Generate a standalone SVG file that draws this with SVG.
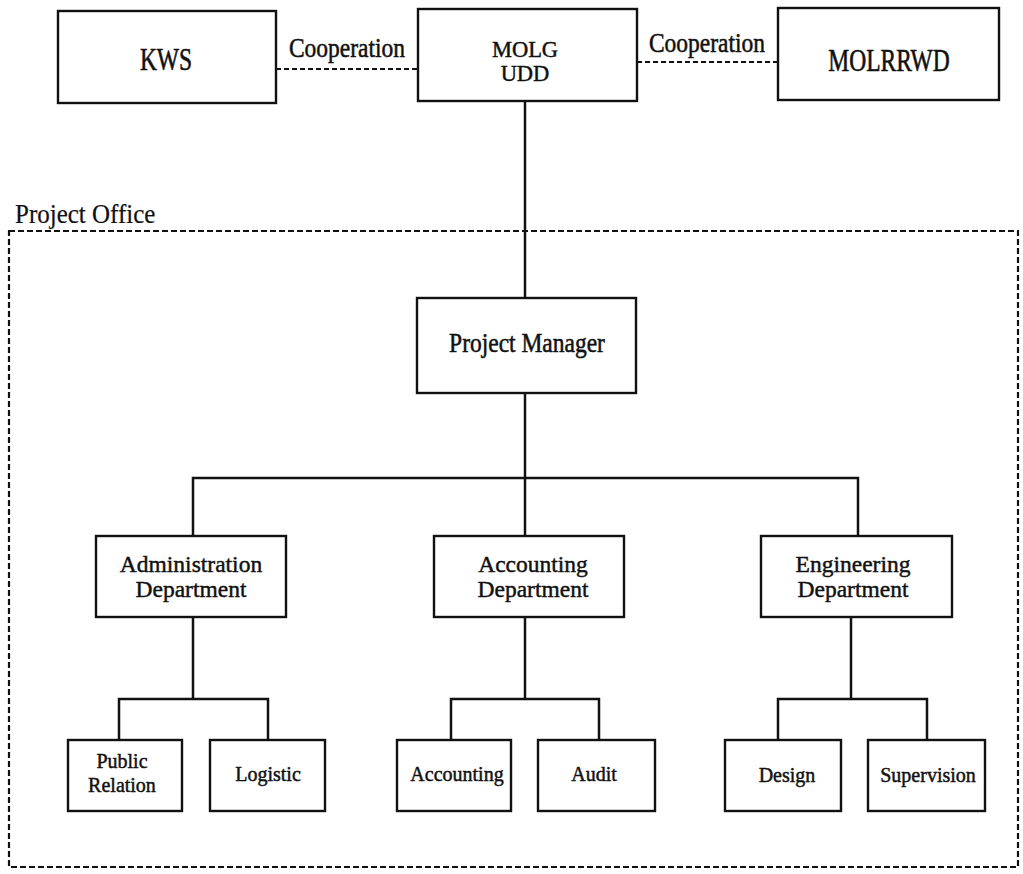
<svg xmlns="http://www.w3.org/2000/svg" width="1023" height="874" viewBox="0 0 1023 874">
  <style>
    .box{fill:#fff;stroke:#111;stroke-width:2.4}
    .wire{fill:none;stroke:#111;stroke-width:2.5}
    .coop{fill:none;stroke:#111;stroke-width:2.2;stroke-dasharray:5 3}
    .frame{fill:none;stroke:#111;stroke-width:2.2;stroke-dasharray:6 3}
    text{font-family:"Liberation Serif","Times New Roman",serif;fill:#111;stroke:#111;stroke-width:0.45;text-anchor:middle}
    .lg{font-size:23.5px}
    .sm{font-size:20px}
    .left{text-anchor:start}
  </style>

  <rect width="1023" height="874" fill="#fff"/>

  <!-- project office boundary -->
  <g id="project-office">
    <rect class="frame" x="9" y="231" width="1009" height="636"/>
    <text class="lg left" transform="translate(15 223) scale(1 1.1)" style="font-size:25px;stroke-width:0.2">Project Office</text>
  </g>

  <!-- connectors -->
  <g id="connectors">
    <line class="coop" x1="276" y1="69" x2="418" y2="69"/>
    <line class="coop" x1="637" y1="62" x2="778" y2="62"/>
    <text class="lg" transform="translate(347 57) scale(1 1.2)">Cooperation</text>
    <text class="lg" transform="translate(707 52) scale(1 1.2)">Cooperation</text>

    <line class="wire" x1="525" y1="101" x2="525" y2="298"/>
    <line class="wire" x1="525" y1="393" x2="525" y2="536"/>
    <polyline class="wire" points="193,536 193,478 858,478 858,536"/>

    <line class="wire" x1="193" y1="617" x2="193" y2="699"/>
    <polyline class="wire" points="119,740 119,699 268,699 268,740"/>

    <line class="wire" x1="525" y1="617" x2="525" y2="699"/>
    <polyline class="wire" points="451,740 451,699 599,699 599,740"/>

    <line class="wire" x1="851" y1="617" x2="851" y2="699"/>
    <polyline class="wire" points="778,740 778,699 927,699 927,740"/>
  </g>

  <!-- top level -->
  <g id="kws">
    <rect class="box" x="58" y="11" width="218" height="92"/>
    <text class="lg" transform="translate(166 70) scale(1 1.3)">KWS</text>
  </g>
  <g id="molg-udd">
    <rect class="box" x="418" y="9" width="219" height="92"/>
    <text class="lg" style="font-size:22.5px"><tspan x="525" y="57">MOLG</tspan><tspan x="525" y="81">UDD</tspan></text>
  </g>
  <g id="molrrwd">
    <rect class="box" x="778" y="8" width="221" height="92"/>
    <text class="lg" transform="translate(889 71) scale(1 1.3)">MOLRRWD</text>
  </g>

  <!-- project manager -->
  <g id="project-manager">
    <rect class="box" x="417" y="298" width="219" height="95"/>
    <text class="lg" transform="translate(527 352) scale(1 1.15)">Project Manager</text>
  </g>

  <!-- departments -->
  <g id="administration-department">
    <rect class="box" x="96" y="536" width="190" height="81"/>
    <text class="lg"><tspan x="191" y="572">Administration</tspan><tspan x="191" y="597">Department</tspan></text>
  </g>
  <g id="accounting-department">
    <rect class="box" x="434" y="536" width="190" height="81"/>
    <text class="lg"><tspan x="533" y="572">Accounting</tspan><tspan x="533" y="597">Department</tspan></text>
  </g>
  <g id="engineering-department">
    <rect class="box" x="761" y="536" width="191" height="81"/>
    <text class="lg"><tspan x="853" y="572">Engineering</tspan><tspan x="853" y="597">Department</tspan></text>
  </g>

  <!-- sections -->
  <g id="public-relation">
    <rect class="box" x="68" y="740" width="114" height="71"/>
    <text class="sm"><tspan x="122" y="768">Public</tspan><tspan x="122" y="792">Relation</tspan></text>
  </g>
  <g id="logistic">
    <rect class="box" x="210" y="740" width="115" height="71"/>
    <text class="sm" x="268" y="781">Logistic</text>
  </g>
  <g id="accounting">
    <rect class="box" x="397" y="740" width="114" height="71"/>
    <text class="sm" x="457" y="781">Accounting</text>
  </g>
  <g id="audit">
    <rect class="box" x="538" y="740" width="117" height="71"/>
    <text class="sm" x="594" y="781">Audit</text>
  </g>
  <g id="design">
    <rect class="box" x="725" y="740" width="116" height="71"/>
    <text class="sm" x="787" y="782">Design</text>
  </g>
  <g id="supervision">
    <rect class="box" x="868" y="740" width="117" height="71"/>
    <text class="sm" x="928" y="782">Supervision</text>
  </g>
</svg>
